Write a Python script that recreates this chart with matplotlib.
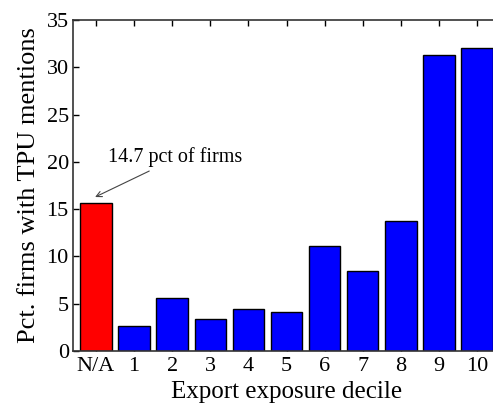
import matplotlib
matplotlib.use("Agg")
import matplotlib.pyplot as plt

categories = ["N/A", "1", "2", "3", "4", "5", "6", "7", "8", "9", "10"]
values = [15.7, 2.64, 5.6, 3.42, 4.44, 4.12, 11.1, 8.46, 13.78, 31.3, 32.04]
colors = ["#ff0000"] + ["#0000ff"] * 10
note = "14.7 pct of firms"

plt.rcParams["font.family"] = ["Liberation Serif", "DejaVu Serif"]

fig = plt.figure(figsize=(4.93, 4.05), dpi=100)
ax = fig.add_axes([73 / 493, 1 - 351 / 405, 427 / 493, 331 / 405])

x = list(range(len(categories)))
ax.bar(x, values, width=0.82, color=colors, edgecolor="black", linewidth=1.0, zorder=2)

ax.set_xlim(-0.6, 10.6)
ax.set_ylim(0, 35)
ax.set_xticks(x)
ax.set_xticklabels(categories)
ax.set_yticks(range(0, 36, 5))

ax.tick_params(axis="x", direction="in", top=True, length=4, width=1, labelsize=16, pad=4)
ax.tick_params(axis="y", direction="in", length=4, width=1, labelsize=16, pad=3)
ax.spines["right"].set_visible(False)
for s in ["left", "bottom", "top"]:
    ax.spines[s].set_linewidth(1.2)
    ax.spines[s].set_color("#333333")

ax.set_ylabel("Pct. firms with TPU mentions", fontsize=19, labelpad=5)
ax.set_xlabel("Export exposure decile", fontsize=18, labelpad=4)

# label above the N/A bar, with an arrow pointing down to it
ax.text(0.32, 20.5, note, fontsize=14.5, va="center", ha="left")
ax.annotate("", xy=(-0.02, 16.28), xytext=(1.40, 19.03),
            arrowprops=dict(arrowstyle="->", color="#444444", lw=0.8,
                            shrinkA=0, shrinkB=0))

fig.savefig("out.png", dpi=100)
